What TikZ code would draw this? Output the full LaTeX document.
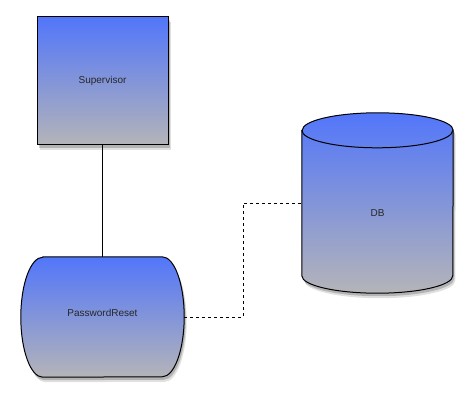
\documentclass[tikz,border=0pt]{standalone}
\usepackage{fontspec}
\setmainfont{Liberation Sans}
\usepackage{xcolor}
\usetikzlibrary{shadows,backgrounds}
\definecolor{topblue}{RGB}{82,118,250}
\definecolor{basegray}{RGB}{180,180,184}
\tikzset{%
	gradbox/.style = {draw, line width=1pt, top color=topblue, bottom color=basegray, drop shadow={shadow xshift=2.5pt, shadow yshift=-5pt, opacity=.12, fill=black}, drop shadow={shadow xshift=1.5pt, shadow yshift=-3pt, opacity=.2, fill=black}},
	block/.style   = {gradbox, rectangle, minimum width=131pt, minimum height=128pt, inner sep=0pt, text=black!85},
	holder/.style  = {rectangle, inner sep=0pt, text=black!85},
	wire/.style    = {line width=1pt},
}

\begin{document}
\begin{tikzpicture}[x=1pt,y=1pt,font=\fontsize{10pt}{12pt}\selectfont]
	\useasboundingbox (0,0) rectangle (473,402);
	\node[block] (sup) at (102.5,321) {Supervisor};
	\node[holder, minimum width=163pt, minimum height=120pt] (pwreset) at (102.5,85) {\raisebox{4.5pt}[\height][\depth]{PasswordReset}};
	\node[holder, minimum width=151pt, minimum height=180pt] (db) at (377.5,199) {\raisebox{-10pt}[\height][\depth]{DB}};
	\begin{scope}[on background layer]
		% stored data shape
		\path[gradbox] ([xshift=22pt]pwreset.north west) -- ([xshift=-22pt]pwreset.north east) arc[start angle=90, end angle=-90, x radius=22pt, y radius=60pt] -- ([xshift=22pt]pwreset.south west) arc[start angle=270, end angle=90, x radius=22pt, y radius=60pt] -- cycle;
		% cylinder
		\path[gradbox] ([yshift=-17.5pt]db.north west) -- ([yshift=17.5pt]db.south west) arc[start angle=180, end angle=360, x radius=75.5pt, y radius=17.5pt] -- ([yshift=-17.5pt]db.north east) arc[start angle=0, end angle=180, x radius=75.5pt, y radius=17.5pt] -- cycle;
		\draw[wire] ([yshift=-17.5pt]db.north west) arc[start angle=180, end angle=360, x radius=75.5pt, y radius=17.5pt];
	\end{scope}
	\draw[wire] (sup) -- (pwreset);
	\draw[wire,dashed] (pwreset.east) -- ++(59,0) |- (db.west);
\end{tikzpicture}
\end{document}
